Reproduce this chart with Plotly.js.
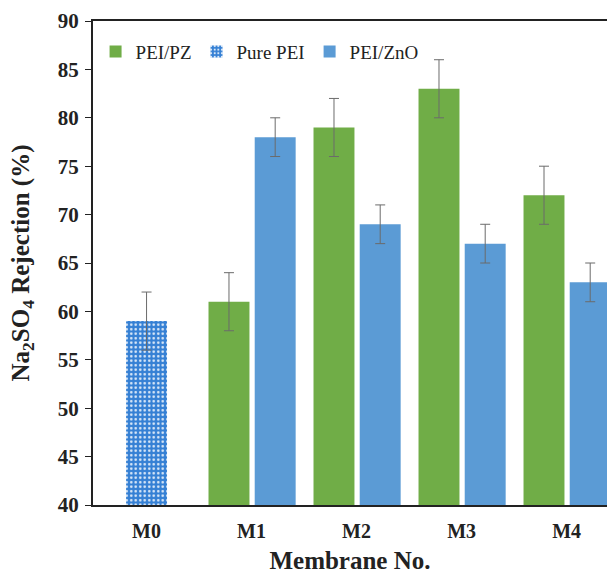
<!DOCTYPE html>
<html>
<head>
<meta charset="utf-8">
<script src="https://cdn.plot.ly/plotly-3.0.1.min.js"></script>
<style>
html,body{margin:0;padding:0;background:#fff;overflow:hidden;}
#chart{width:607px;height:574px;}
</style>
</head>
<body>
<div id="chart"></div>
<script>
// Data
const categories = ["M0", "M1", "M2", "M3", "M4"];
const pureCats = ["M0"];
const pureVals = [59];
const pureErr = [3];
const compCats = ["M1", "M2", "M3", "M4"];
const pzVals = [61, 79, 83, 72];
const pzErr = [3, 3, 3, 3];
const znoVals = [78, 69, 67, 63];
const znoErr = [2, 2, 2, 2];
const yTicks = [40, 45, 50, 55, 60, 65, 70, 75, 80, 85, 90];

const FONT = "'Liberation Serif', 'Times New Roman', serif";
const GREEN = "#70AD47";
const BLUE = "#5B9BD5";
const errStyle = {type: "data", visible: true, thickness: 1, width: 5, color: "#6b6b6b"};

const BW = 0.39;

const traces = [
  {
    type: "bar", name: "PEI/PZ", x: compCats, y: pzVals,
    width: BW, offset: -0.41,
    marker: {color: GREEN},
    error_y: Object.assign({array: pzErr}, errStyle)
  },
  {
    type: "bar", name: "Pure PEI", x: pureCats, y: pureVals,
    width: BW, offset: -0.195,
    marker: {color: "#3580d4", pattern: {shape: ".", fillmode: "overlay", fgcolor: "#ffffff", fgopacity: 0.85, size: 4.5, solidity: 0.25}},
    error_y: Object.assign({array: pureErr}, errStyle)
  },
  {
    type: "bar", name: "PEI/ZnO", x: compCats, y: znoVals,
    width: BW, offset: 0.03,
    marker: {color: BLUE},
    error_y: Object.assign({array: znoErr}, errStyle)
  }
];

const layout = {
  width: 607, height: 574,
  margin: {l: 93, r: 0, t: 21, b: 69},
  paper_bgcolor: "#ffffff", plot_bgcolor: "#ffffff",
  font: {family: FONT, color: "#222"},
  barmode: "overlay",
  showlegend: true,
  legend: {
    orientation: "h", x: 0.005, y: 0.976, xanchor: "left", yanchor: "top",
    font: {family: FONT, size: 19, color: "#222"},
    bgcolor: "rgba(0,0,0,0)", itemwidth: 30, traceorder: "normal"
  },
  xaxis: {
    type: "category", categoryorder: "array", categoryarray: categories,
    range: [-0.51, 4.385],
    showline: true, linecolor: "#222", linewidth: 2, mirror: true,
    ticks: "", showgrid: false, zeroline: false, ticklabelstandoff: 7,
    tickfont: {family: FONT, size: 20, weight: "bold", color: "#222"},
    title: {text: "Membrane No.", font: {family: FONT, size: 25, weight: "bold", color: "#222"}, standoff: 17}
  },
  yaxis: {
    range: [40, 90], tickvals: yTicks,
    showline: true, linecolor: "#222", linewidth: 2,
    ticks: "outside", ticklen: 6, tickcolor: "#222", tickwidth: 1,
    showgrid: false, zeroline: false, ticklabelstandoff: 2,
    tickfont: {family: FONT, size: 21, weight: "bold", color: "#222"},
    title: {text: "Na<sub>2</sub>SO<sub>4</sub> Rejection (%)", font: {family: FONT, size: 25, weight: "bold", color: "#222"}, standoff: 21}
  }
};

Plotly.newPlot("chart", traces, layout, {displayModeBar: false, staticPlot: true});
</script>
</body>
</html>
